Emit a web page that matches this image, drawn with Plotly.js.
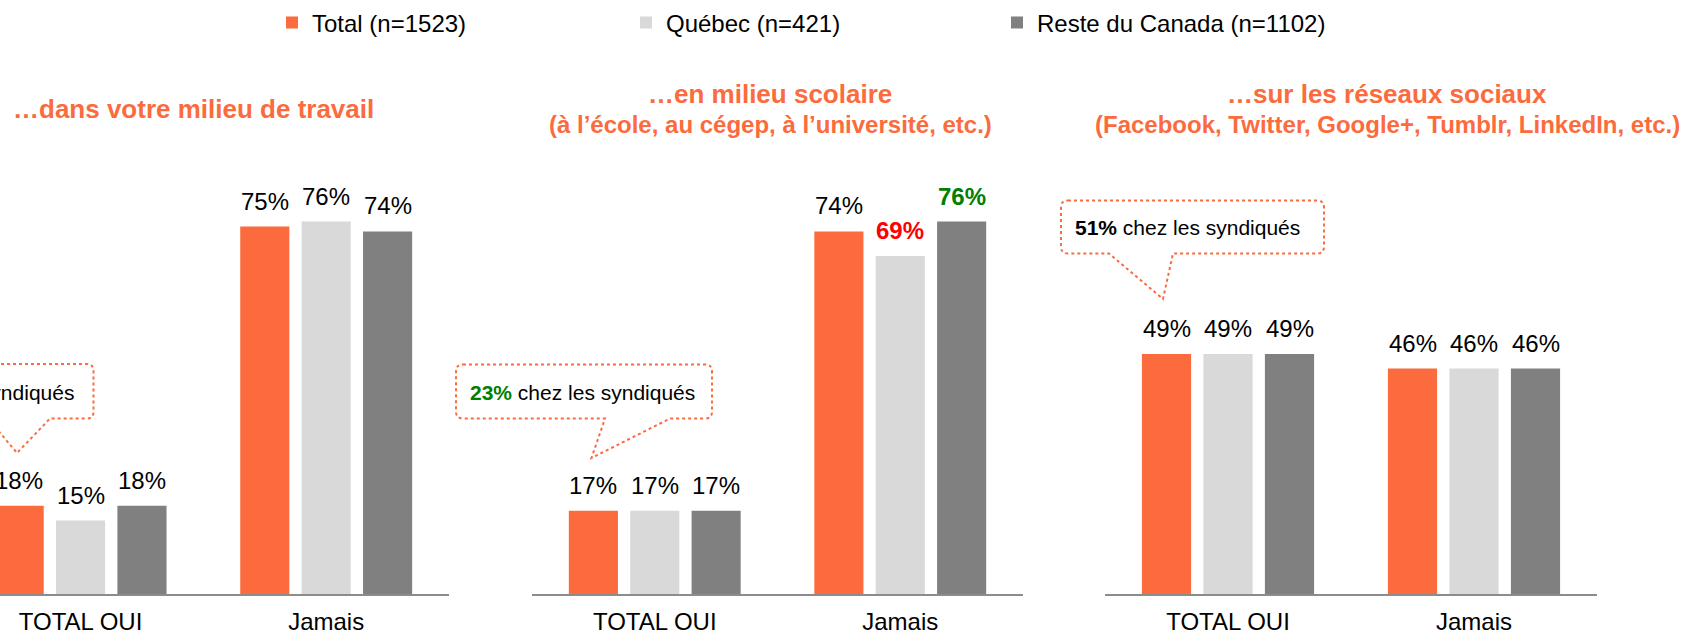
<!DOCTYPE html>
<html>
<head>
<meta charset="utf-8">
<script src="https://cdn.plot.ly/plotly-3.0.1.min.js"></script>
<style>
  html, body { margin: 0; padding: 0; background: #ffffff; }
  #chart { width: 1685px; height: 634px; }
</style>
</head>
<body>
<div id="chart"></div>
<script>
// ---------------- DATA ----------------
const categories = ['TOTAL OUI', 'Jamais'];
const seriesNames = ['Total (n=1523)', 'Québec (n=421)', 'Reste du Canada (n=1102)'];

const travailTotal = [18, 75];
const travailQuebec = [15, 76];
const travailReste = [18, 74];

const scolaireTotal = [17, 74];
const scolaireQuebec = [17, 69];
const scolaireReste = [17, 76];

const sociauxTotal = [49, 46];
const sociauxQuebec = [49, 46];
const sociauxReste = [49, 46];

const panelTitleLine1 = ['…dans votre milieu de travail', '…en milieu scolaire', '…sur les réseaux sociaux'];
const panelTitleLine2 = ['', '(à l’école, au cégep, à l’université, etc.)', '(Facebook, Twitter, Google+, Tumblr, LinkedIn, etc.)'];

const calloutNumbers = ['', '23%', '51%'];
const calloutText = 'chez les syndiqués';

// highlighted data labels (scolaire panel)
const scolaireQuebecLabelColors = ['#000000', '#FF0000'];
const scolaireResteLabelColors = ['#000000', '#008000'];

// ---------------- STYLE / LAYOUT ----------------
const W = 1685, H = 634, MT = 104, MB = 40;
const PH = H - MT - MB;
const px2x = px => px / W;
const px2y = py => (H - MB - py) / PH;

const seriesColors = ['#FB6B3D', '#D9D9D9', '#808080'];
const orange = '#FB6B3D';
const font = 'Liberation Sans, Arial, sans-serif';
const bargap = 0.25, bargroupgap = 0.2;

const panelValues = [
  [travailTotal, travailQuebec, travailReste],
  [scolaireTotal, scolaireQuebec, scolaireReste],
  [sociauxTotal, sociauxQuebec, sociauxReste]
];
const labelColors = [
  [null, null, null],
  [null, scolaireQuebecLabelColors, scolaireResteLabelColors],
  [null, null, null]
];

const domainsPx = [[0, 449], [532, 1023], [1105, 1597]];
const ranges = [[-0.328, 1.5], [-0.5, 1.5], [-0.5, 1.5]];
const legendNames = ['legend', 'legend2', 'legend3'];

const traces = [];
const annotations = [];
const layout = {
  width: W, height: H,
  margin: {l: 0, r: 0, t: MT, b: MB},
  paper_bgcolor: '#ffffff', plot_bgcolor: '#ffffff',
  barmode: 'group', bargap: bargap, bargroupgap: bargroupgap,
  font: {family: font, color: '#000000', size: 24},
  showlegend: true,
  hovermode: false
};

const nS = seriesNames.length;
const slot = (1 - bargap) / nS;

panelValues.forEach((vals, p) => {
  const sfx = p === 0 ? '' : String(p + 1);
  const xa = 'x' + sfx, ya = 'y' + sfx;
  layout['xaxis' + sfx] = {
    domain: [px2x(domainsPx[p][0]), px2x(domainsPx[p][1])],
    anchor: ya, type: 'category', categoryorder: 'array', categoryarray: categories,
    range: ranges[p], showline: true, linecolor: '#8C8C8C', linewidth: 2,
    ticks: '', showgrid: false, zeroline: false, fixedrange: true,
    tickfont: {family: font, size: 24, color: '#000000'}, ticklabelstandoff: 5
  };
  layout['yaxis' + sfx] = {
    domain: [0, 1], anchor: xa, range: [0, 100], visible: false, fixedrange: true
  };
  vals.forEach((v, s) => {
    traces.push({
      type: 'bar', x: categories, y: v, xaxis: xa, yaxis: ya,
      name: seriesNames[s], legend: legendNames[s], legendgroup: 's' + s,
      showlegend: p === 0,
      marker: {color: seriesColors[s]},
      cliponaxis: true
    });
    v.forEach((val, c) => {
      const col = labelColors[p][s] ? labelColors[p][s][c] : '#000000';
      const bold = col !== '#000000';
      annotations.push({
        xref: xa, yref: ya, x: c + (s - (nS - 1) / 2) * slot, y: val,
        text: bold ? '<b>' + val + '%</b>' : val + '%',
        showarrow: false, yanchor: 'bottom', xanchor: 'center', yshift: 10,
        font: {family: font, size: 24, color: col}
      });
    });
  });
});

// legends (one per series, spread across the top)
const legendXs = [272, 626, 997];
legendNames.forEach((ln, i) => {
  layout[ln] = {
    orientation: 'h', x: px2x(legendXs[i]), y: px2y(23), xanchor: 'left', yanchor: 'middle',
    font: {family: font, size: 24, color: '#000000'}, bgcolor: 'rgba(0,0,0,0)'
  };
});

// panel titles
const titleCenters = [193, 770, 1387];
panelTitleLine1.forEach((t, p) => {
  const yc = panelTitleLine2[p] ? 94 : 109;
  annotations.push({xref: 'paper', yref: 'paper', x: px2x(titleCenters[p]), y: px2y(yc),
    text: '<b>' + t + '</b>', showarrow: false, xanchor: 'center', yanchor: 'middle',
    font: {family: font, size: 26, color: orange}});
  if (panelTitleLine2[p]) {
    annotations.push({xref: 'paper', yref: 'paper', x: px2x(titleCenters[p]), y: px2y(125),
      text: '<b>' + panelTitleLine2[p] + '</b>', showarrow: false, xanchor: 'center', yanchor: 'middle',
      font: {family: font, size: 24, color: orange}});
  }
});

// callout bubbles
function bubblePath(l, t, r, b, rad, bl, br, tx, ty) {
  const X = px2x, Y = px2y;
  return 'M' + X(l + rad) + ',' + Y(t) +
    ' L' + X(r - rad) + ',' + Y(t) +
    ' Q' + X(r) + ',' + Y(t) + ' ' + X(r) + ',' + Y(t + rad) +
    ' L' + X(r) + ',' + Y(b - rad) +
    ' Q' + X(r) + ',' + Y(b) + ' ' + X(r - rad) + ',' + Y(b) +
    ' L' + X(br) + ',' + Y(b) +
    ' L' + X(tx) + ',' + Y(ty) +
    ' L' + X(bl) + ',' + Y(b) +
    ' L' + X(l + rad) + ',' + Y(b) +
    ' Q' + X(l) + ',' + Y(b) + ' ' + X(l) + ',' + Y(b - rad) +
    ' L' + X(l) + ',' + Y(t + rad) +
    ' Q' + X(l) + ',' + Y(t) + ' ' + X(l + rad) + ',' + Y(t) + ' Z';
}
const bubbles = [
  [-150, 364, 93.5, 418.5, 7, -12, 50, 17, 453],
  [456, 364.5, 712, 418.5, 7, 605, 670, 591.5, 458],
  [1061, 200.5, 1324, 253.5, 7, 1109, 1173, 1163, 299]
];
layout.shapes = bubbles.map(bb => ({
  type: 'path', xref: 'paper', yref: 'paper', path: bubblePath.apply(null, bb),
  line: {color: orange, width: 2, dash: 'dot'}, fillcolor: 'rgba(0,0,0,0)', layer: 'above'
}));
const calloutNumColors = ['#000000', '#008000', '#000000'];
// bubble 1 (cut off on the left)
annotations.push({xref: 'paper', yref: 'paper', x: px2x(76), y: px2y(392.5),
  text: calloutText, showarrow: false, xanchor: 'right', yanchor: 'middle',
  font: {family: font, size: 21, color: '#000000'}});
[1, 2].forEach(i => {
  const bb = bubbles[i];
  const baseline = i === 1 ? 400 : 235;
  annotations.push({xref: 'paper', yref: 'paper', x: px2x(bb[0] + 12), y: px2y(baseline - 7.4),
    text: '<span style="color:' + calloutNumColors[i] + '"><b>' + calloutNumbers[i] + '</b></span> ' + calloutText,
    showarrow: false, xanchor: 'left', yanchor: 'middle',
    font: {family: font, size: 21, color: '#000000'}});
});

layout.annotations = annotations;

Plotly.newPlot('chart', traces, layout, {displayModeBar: false, staticPlot: true});
</script>
</body>
</html>
